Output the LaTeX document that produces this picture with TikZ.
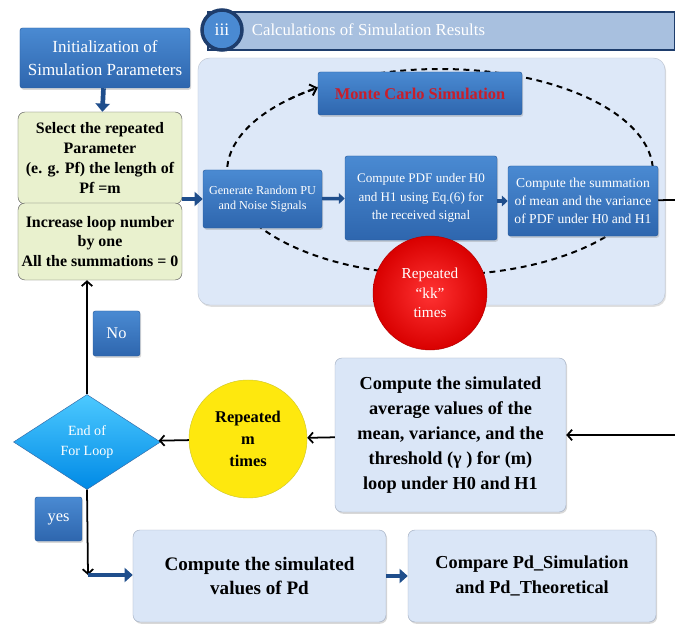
\documentclass[tikz,border=0pt]{standalone}
\usepackage{fontspec}
\setmainfont{Liberation Serif}
\usetikzlibrary{positioning,shapes.geometric,arrows.meta,shadows}
\definecolor{boxtop}{HTML}{4A8AD2}
\definecolor{boxbot}{HTML}{2E66AE}
\definecolor{boxline}{HTML}{2A5C9C}
\definecolor{lightfill}{HTML}{DAE6F7}
\definecolor{lightline}{HTML}{A3AFC2}
\definecolor{panelfill}{HTML}{DDE8F8}
\definecolor{greenfill}{HTML}{E9F1CE}
\definecolor{arrowblue}{HTML}{1F4E8C}
\definecolor{headfill}{HTML}{A8C0DF}
\definecolor{headline}{HTML}{1E3D6C}
\definecolor{mcred}{HTML}{C81E2A}
\tikzset{blue box/.style={rectangle, rounded corners=2pt, draw=boxline, top color=boxtop, bottom color=boxbot, text=white, align=center, inner sep=2pt, drop shadow={shadow xshift=1pt, shadow yshift=-1.5pt, opacity=0.3}},
  light box/.style={rectangle, rounded corners=6pt, draw=lightline, fill=lightfill, align=center, inner sep=2pt, font=\fontsize{15.6}{21.5}\selectfont\bfseries, drop shadow={shadow xshift=1pt, shadow yshift=-1.5pt, opacity=0.3}},
  green box/.style={rectangle, rounded corners=6pt, draw=black!65, fill=greenfill, align=center, inner sep=2pt, font=\fontsize{13.6}{17}\selectfont\bfseries},
  block arrow/.style={draw=arrowblue, line width=4pt, -{Triangle[length=7pt,width=12pt]}},
  small arrow/.style={draw=arrowblue, line width=3pt, -{Triangle[length=5pt,width=9pt]}},
  black arrow/.style={draw=black, line width=1.5pt, -{Straight Barb[length=4pt,width=9pt]}},
  loop line/.style={line width=1.7pt, dash pattern=on 5pt off 4pt},
}

\begin{document}
\begin{tikzpicture}[x=0.03cm, y=-0.03cm]
        \useasboundingbox[fill=white] (0,0) rectangle (675,628);
        % Header
        \node[rectangle, draw=headline, line width=1.5pt, fill=headfill, minimum width=14.01cm, minimum height=1.14cm] (bar) at (441.5,31) {};
        \node[circle, draw=headline, line width=3pt, fill=boxtop, text=white, minimum size=1.2cm, font=\fontsize{15}{16}\selectfont] (iii) at (222,30) {iii};
        \node[text=white, font=\fontsize{14.3}{16}\selectfont, right=0.12cm of iii] (title) {Calculations of Simulation Results};
        % Panel and loop
        \node[rectangle, rounded corners=10pt, draw=lightline!70, fill=panelfill, minimum width=14.01cm, minimum height=7.41cm, drop shadow={shadow xshift=1pt, shadow yshift=-1.5pt, opacity=0.25}] (panel) at (431.5,181.5) {};
        \draw[loop line] (440,172) ellipse [x radius=213, y radius=103];
        \draw[loop line, -{Straight Barb[length=5pt,width=10pt]}] (289.4,99.2) arc [start angle=225, end angle=235, x radius=213, y radius=103];
        % Nodes
        \node[blue box, minimum width=5.1cm, minimum height=1.8cm, font=\fontsize{14.5}{20}\selectfont] (init) at (105,58) {Initialization of\\Simulation Parameters};
        \node[green box, minimum width=4.92cm, minimum height=2.76cm] (select) at (100,158) {Select the repeated\\Parameter\\(e. g. Pf) the length of\\Pf =m};
        \node[green box, minimum width=4.92cm, minimum height=2.31cm] (incr) at (100,241.5) {Increase loop number\\by one\\All the summations = 0};
        \node[blue box, minimum width=6.12cm, minimum height=1.29cm, text=mcred, font=\fontsize{14}{15}\selectfont\bfseries] (monte) at (420,93.5) {Monte Carlo Simulation};
        \node[blue box, minimum width=3.57cm, minimum height=1.74cm, font=\fontsize{10.4}{13}\selectfont] (gen) at (262.5,199) {Generate Random PU\\and Noise Signals};
        \node[blue box, minimum width=4.56cm, minimum height=2.52cm, font=\fontsize{11.2}{15.5}\selectfont] (pdf) at (421,198) {Compute PDF under H0\\and H1 using Eq.(6) for\\the received signal};
        \node[blue box, minimum width=4.5cm, minimum height=2.1cm, font=\fontsize{11.6}{15.5}\selectfont] (summ) at (583,201) {Compute the summation\\of mean and the variance\\of PDF under H0 and H1};
        \node[circle, draw=red!70!black, inner color=red!80!white, outer color=red!85!black, text=white, minimum size=3.42cm, align=center, font=\fontsize{13}{16.5}\selectfont] (kk) at (430,293) {Repeated\\“kk”\\times};
        \node[light box, minimum width=6.93cm, minimum height=4.62cm] (sim) at (450.5,435) {Compute the simulated\\average values of the\\mean, variance, and the\\threshold (γ ) for (m)\\loop under H0 and H1};
        \node[circle, draw=yellow!80!black, fill=yellow!90!orange!95!white, minimum size=3.54cm, align=center, font=\fontsize{14}{19}\selectfont\bfseries] (rep) at (248,439) {Repeated\\m\\times};
        \node[diamond, draw=cyan!50!blue!80!black, top color=cyan!70!blue!70, bottom color=cyan!60!blue!90!black, text=white, minimum width=4.41cm, minimum height=2.85cm, inner sep=0pt, align=center, font=\fontsize{12}{17}\selectfont] (loop) at (87,442) {End of\\For Loop};
        \node[blue box, minimum width=1.41cm, minimum height=1.35cm, font=\fontsize{14}{15}\selectfont] (no) at (116.5,333.5) {No};
        \node[blue box, minimum width=1.41cm, minimum height=1.32cm, font=\fontsize{14}{15}\selectfont] (yes) at (58.5,519) {yes};
        \node[light box, minimum width=7.59cm, minimum height=2.76cm, font=\fontsize{16.3}{21}\selectfont\bfseries] (pd) at (259.5,576) {Compute the simulated\\values of Pd};
        \node[light box, minimum width=7.44cm, minimum height=2.76cm] (cmp) at (532,576) {Compare Pd\_Simulation\\and Pd\_Theoretical};
        \coordinate (out) at (675,200);
        \coordinate (back) at (675,435);
        \coordinate (down) at (88,575);
        % Paths
        \draw[block arrow] (init) -- (select);
        \draw[block arrow] (gen.west -| select.east) -- (gen.west);
        \draw[small arrow] (gen) -- (pdf);
        \draw[small arrow] (pdf.east |- summ.west) -- (summ);
        \draw[line width=1.5pt] (summ) -- (out);
        \draw[black arrow] (back) -- (sim);
        \draw[black arrow] (sim) -- (rep);
        \draw[black arrow] (rep) -- (loop);
        \draw[black arrow] (loop.north) -- (loop.north |- incr.south);
        \draw[black arrow] (loop.south) -- (down);
        \draw[block arrow] (down) -- (pd.west |- down);
        \draw[block arrow] (pd) -- (cmp);
    \end{tikzpicture}
\end{document}
